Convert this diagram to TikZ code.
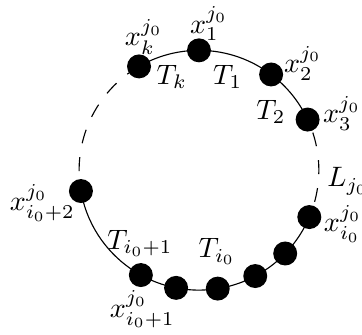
\documentclass[tikz,border=0pt]{standalone}
\usetikzlibrary{positioning}

\begin{document}
\begin{tikzpicture}[
      dot/.style={circle, fill=black, inner sep=0pt, minimum size=3mm},
      dashline/.style={dash pattern=on 5pt off 5pt},
      lbl/.style={inner sep=0pt}
    ]
    \def\R{1.5cm}
    \useasboundingbox (-2.49,-2.05) rectangle (2.04,2.13);

    % points on the circle
    \node[dot] (xk) at (120:\R) {};
    \node[dot] (x1) at (90:\R) {};
    \node[dot] (x2) at (53:\R) {};
    \node[dot] (x3) at (25:\R) {};
    \node[dot] (xi0) at (-23:\R) {};
    \foreach \a [count=\i] in {-44,-62,-81,-101}
      \node[dot] (m\i) at (\a:\R) {};
    \node[dot] (xi1) at (-119:\R) {};
    \node[dot] (xi2) at (190:\R) {};

    % arcs
    \draw (xk.center) arc[start angle=120, end angle=25, radius=\R];
    \draw (xi2.center) arc[start angle=190, end angle=337, radius=\R];
    \draw[dashline] (xk.center) arc[start angle=120, end angle=190, radius=\R];
    \draw[dashline, dash phase=5pt] (x3.center) arc[start angle=25, end angle=-23, radius=\R];

    % labels
    \node[lbl] (lxk) at (-0.69,1.67) {$x_k^{j_0}$};
    \node[lbl] (lx1) at (0.125,1.83) {$x_1^{j_0}$};
    \node[lbl] (lx2) at (1.30,1.34) {$x_2^{j_0}$};
    \node[lbl] (lx3) at (1.79,0.71) {$x_3^{j_0}$};
    \node[lbl] (lxi0) at (1.80,-0.67) {$x_{i_0}^{j_0}$};
    \node[lbl] (lxi1) at (-0.71,-1.74) {$x_{i_0+1}^{j_0}$};
    \node[lbl] (lxi2) at (-1.96,-0.41) {$x_{i_0+2}^{j_0}$};
    \node[lbl] (tk) at (-0.34,1.17) {$T_k$};
    \node[lbl] (t1) at (0.36,1.17) {$T_1$};
    \node[lbl] (t2) at (0.90,0.73) {$T_2$};
    \node[lbl] (ti0) at (0.225,-1.02) {$T_{i_0}$};
    \node[lbl] (ti1) at (-0.74,-0.91) {$T_{i_0+1}$};
    \node[lbl, anchor=west] (lj) at (1.60,-0.14) {$L_{j_0}$};
  \end{tikzpicture}
\end{document}
